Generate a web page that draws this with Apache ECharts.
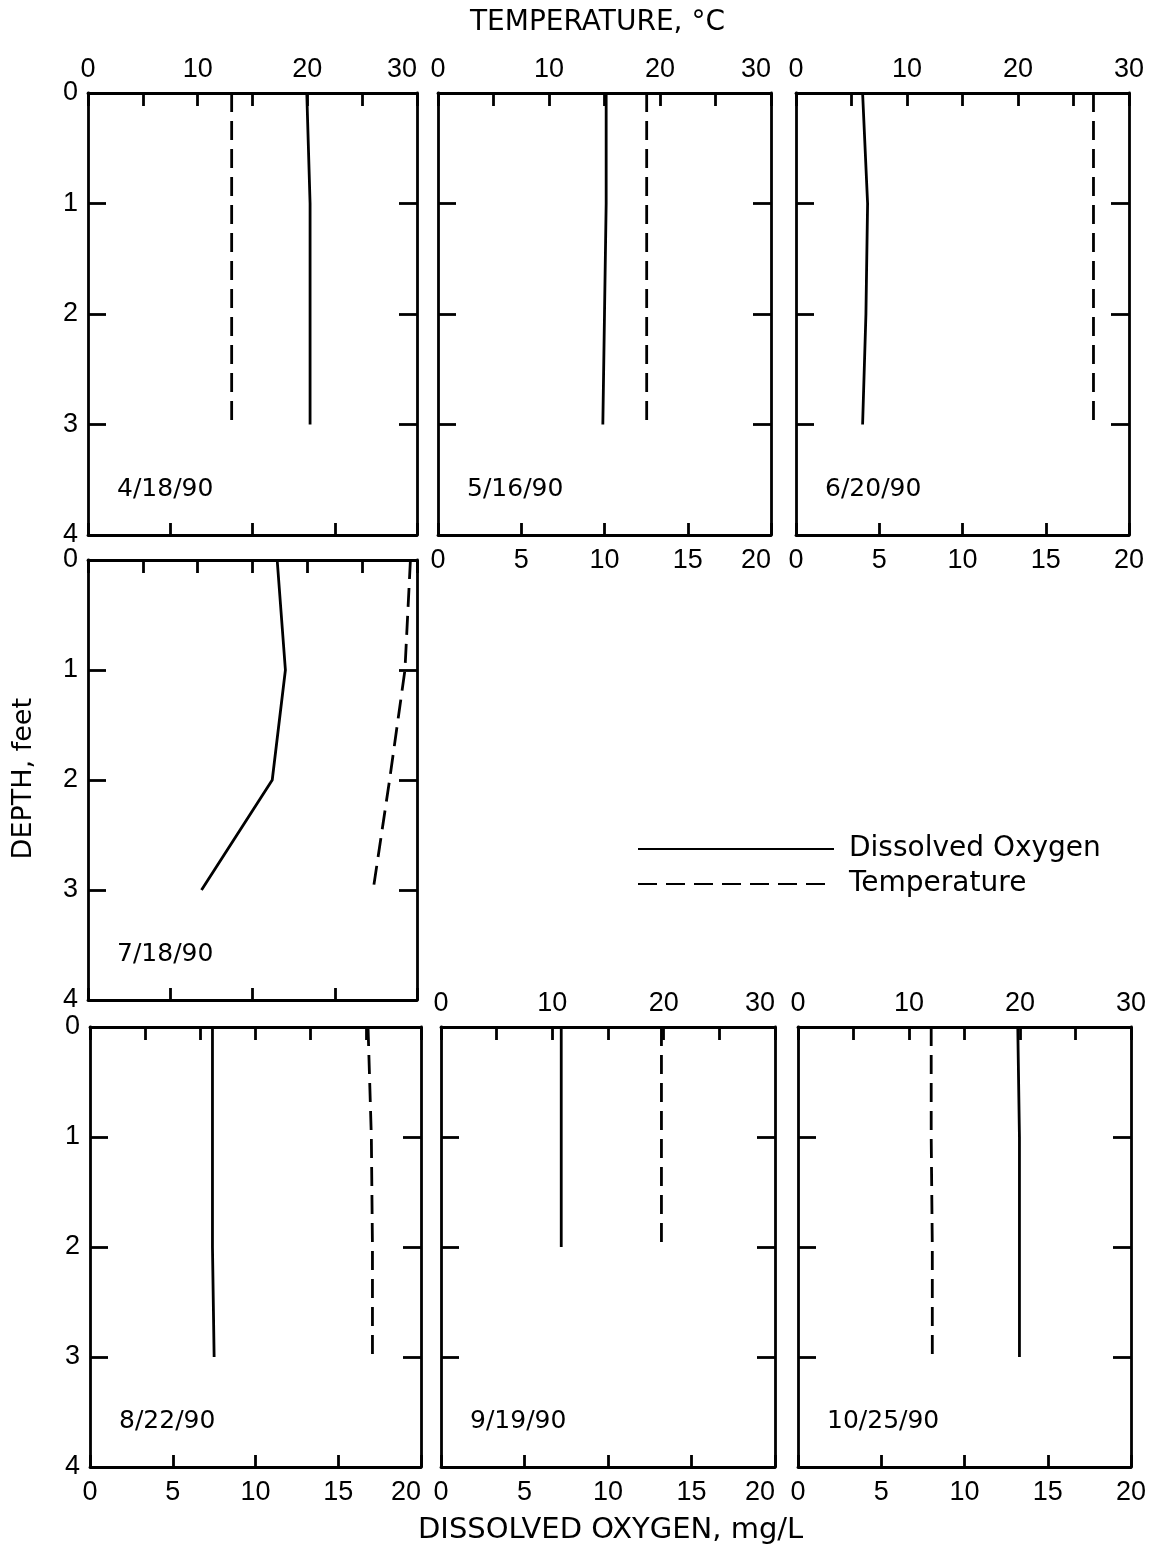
<!DOCTYPE html>
<html>
<head>
<meta charset="utf-8">
<script src="https://cdn.jsdelivr.net/npm/echarts@6/dist/echarts.min.js"></script>
<style>
html,body{margin:0;padding:0;background:#fff;}
#c{width:1150px;height:1557px;}
</style>
</head>
<body>
<div id="c"></div>
<script>
// ---- data ----
const dates = ['4/18/90', '5/16/90', '6/20/90', '7/18/90', '8/22/90', '9/19/90', '10/25/90'];
const depthFull = [0, 1, 2, 3];
const depthShort = [0, 1, 2];
const doApr = [13.3, 13.5, 13.5, 13.5];
const tempApr = [13.1, 13.1, 13.1, 13.1];
const doMay = [10.1, 10.1, 10.0, 9.9];
const tempMay = [18.8, 18.8, 18.8, 18.8];
const doJun = [4.0, 4.3, 4.2, 4.0];
const tempJun = [26.8, 26.8, 26.8, 26.8];
const doJul = [11.5, 12.0, 11.2, 6.9];
const tempJul = [29.4, 28.9, 27.5, 26.0];
const doAug = [7.4, 7.4, 7.4, 7.5];
const tempAug = [25.2, 25.5, 25.6, 25.6];
const doSep = [7.2, 7.2, 7.2];
const tempSep = [19.8, 19.8, 19.8];
const doOct = [13.2, 13.3, 13.3, 13.3];
const tempOct = [12.0, 12.0, 12.1, 12.1];
const depthTicks = [0, 1, 2, 3, 4];
const tempTickLabels = [0, 10, 20, 30];
const doTickLabels = [0, 5, 10, 15, 20];

const panels = [
  {date: dates[0], d: depthFull, o: doApr, t: tempApr},
  {date: dates[1], d: depthFull, o: doMay, t: tempMay},
  {date: dates[2], d: depthFull, o: doJun, t: tempJun},
  {date: dates[3], d: depthFull, o: doJul, t: tempJul},
  {date: dates[4], d: depthFull, o: doAug, t: tempAug},
  {date: dates[5], d: depthShort, o: doSep, t: tempSep},
  {date: dates[6], d: depthFull, o: doOct, t: tempOct}
];

// ---- layout ----
const layout = [
  {l: 88,  t: 93,   w: 329, h: 442, top: true,  bottom: false, left: true,  lastCol: false},
  {l: 438, t: 93,   w: 333, h: 442, top: true,  bottom: true,  left: false, lastCol: false},
  {l: 796, t: 93,   w: 333, h: 442, top: true,  bottom: true,  left: false, lastCol: true},
  {l: 88,  t: 560,  w: 329, h: 440, top: false, bottom: false, left: true,  lastCol: false},
  {l: 90,  t: 1027, w: 331, h: 440, top: false, bottom: true,  left: true,  lastCol: false},
  {l: 441, t: 1027, w: 334, h: 440, top: true,  bottom: true,  left: false, lastCol: false},
  {l: 798, t: 1027, w: 333, h: 440, top: true,  bottom: true,  left: false, lastCol: true}
];

const TICKFONT = '"Liberation Sans", Arial, Helvetica, sans-serif';
const TEXTFONT = '"DejaVu Sans", Verdana, sans-serif';
const BLACK = '#000';
const LW = 2.8;
const axisLine = {show: true, onZero: false, lineStyle: {color: BLACK, width: LW}};

const grids = [], xAxes = [], yAxes = [], series = [], graphics = [];

layout.forEach((g, i) => {
  grids.push({left: g.l, top: g.t, width: g.w, height: g.h, containLabel: false});
  // DO axis (bottom)
  xAxes.push({
    type: 'value', gridIndex: i, position: 'bottom', min: 0, max: 20, interval: 5,
    axisLine: axisLine,
    axisTick: {show: true, inside: true, length: 12, lineStyle: {color: BLACK, width: LW}},
    axisLabel: {show: g.bottom, margin: 12, fontSize: 27, color: BLACK, fontFamily: TICKFONT,
      alignMaxLabel: g.lastCol ? 'center' : 'right',
      formatter: v => doTickLabels.includes(v) ? String(v) : ''},
    splitLine: {show: false}
  });
  // Temperature axis (top)
  xAxes.push({
    type: 'value', gridIndex: i, position: 'top', min: 0, max: 30, interval: 5,
    axisLine: axisLine,
    axisTick: {show: true, inside: true, length: 13, lineStyle: {color: BLACK, width: LW}},
    axisLabel: {show: g.top, margin: 10, fontSize: 27, color: BLACK, fontFamily: TICKFONT,
      alignMaxLabel: g.lastCol ? 'center' : 'right',
      formatter: v => tempTickLabels.includes(v) ? String(v) : ''},
    splitLine: {show: false}
  });
  // Depth axis (left)
  yAxes.push({
    type: 'value', gridIndex: i, position: 'left', inverse: true, min: 0, max: 4, interval: 1,
    axisLine: axisLine,
    axisTick: {show: true, inside: true, length: 18, lineStyle: {color: BLACK, width: LW}},
    axisLabel: {show: g.left, margin: 10, fontSize: 27, color: BLACK, fontFamily: TICKFONT,
      formatter: v => depthTicks.includes(v) ? String(v) : ''},
    splitLine: {show: false}
  });
  // Depth axis (right, ticks only)
  yAxes.push({
    type: 'value', gridIndex: i, position: 'right', inverse: true, min: 0, max: 4, interval: 1,
    axisLine: axisLine,
    axisTick: {show: true, inside: true, length: 18, lineStyle: {color: BLACK, width: LW}},
    axisLabel: {show: false},
    splitLine: {show: false}
  });

  const p = panels[i];
  series.push({
    name: 'Dissolved Oxygen', type: 'line', xAxisIndex: 2 * i, yAxisIndex: 2 * i,
    data: p.d.map((dep, k) => [p.o[k], dep]),
    symbol: 'none', showSymbol: false, silent: true,
    lineStyle: {color: BLACK, width: LW, type: 'solid'},
    itemStyle: {color: BLACK}
  });
  series.push({
    name: 'Temperature', type: 'line', xAxisIndex: 2 * i + 1, yAxisIndex: 2 * i,
    data: p.d.map((dep, k) => [p.t[k], dep]),
    symbol: 'none', showSymbol: false, silent: true,
    lineStyle: {color: BLACK, width: LW, type: [19, 9]},
    itemStyle: {color: BLACK}
  });

  graphics.push({
    type: 'text', left: g.l + 29, top: g.t + g.h - 58,
    style: {text: p.date, fontSize: 25, fill: BLACK, fontFamily: TEXTFONT}
  });
});

graphics.push({
  type: 'text', left: 470, top: 9,
  style: {text: 'TEMPERATURE, °C', fontSize: 28, fill: BLACK, fontFamily: TEXTFONT}
});
graphics.push({
  type: 'text', left: 418, top: 1516,
  style: {text: 'DISSOLVED OXYGEN, mg/L', fontSize: 29, fill: BLACK, fontFamily: TEXTFONT}
});
graphics.push({
  type: 'text', left: 10, top: 698, rotation: Math.PI / 2,
  style: {text: 'DEPTH, feet', fontSize: 27, fill: BLACK, fontFamily: TEXTFONT}
});

const chart = echarts.init(document.getElementById('c'), null, {renderer: 'canvas'});
chart.setOption({
  animation: false,
  backgroundColor: '#fff',
  grid: grids,
  xAxis: xAxes,
  yAxis: yAxes,
  series: series,
  legend: {
    show: true, orient: 'vertical', left: 632, top: 830,
    itemWidth: 196, itemHeight: 18, itemGap: 7,
    data: ['Dissolved Oxygen', 'Temperature'],
    itemStyle: {opacity: 0},
    textStyle: {fontSize: 28, color: BLACK, fontFamily: TEXTFONT, padding: [0, 0, 0, 10]},
    selectedMode: false
  },
  graphic: graphics
});
</script>
</body>
</html>
